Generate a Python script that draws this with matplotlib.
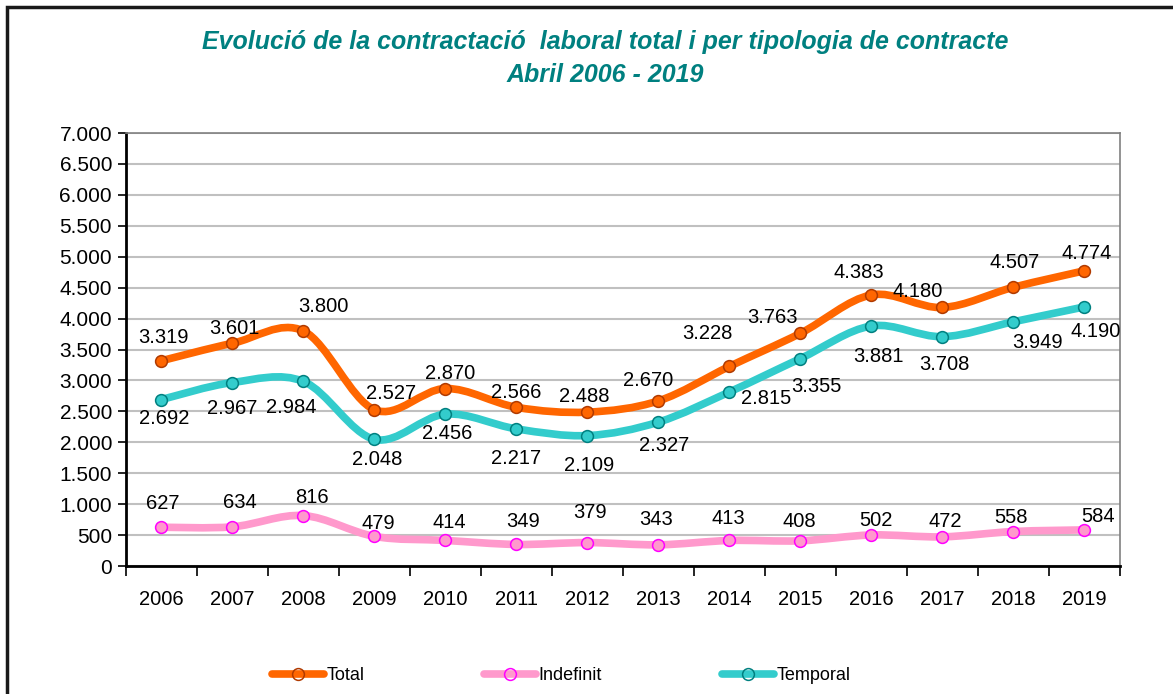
import numpy as np
import matplotlib
matplotlib.use("Agg")
import matplotlib.pyplot as plt
from matplotlib.path import Path
from matplotlib.patches import PathPatch, Rectangle
from matplotlib.lines import Line2D

plt.rcParams['font.family'] = ['Liberation Sans', 'DejaVu Sans']

# dades
anys = ['2006', '2007', '2008', '2009', '2010', '2011', '2012',
        '2013', '2014', '2015', '2016', '2017', '2018', '2019']
total = [3319, 3601, 3800, 2527, 2870, 2566, 2488, 2670, 3228, 3763, 4383, 4180, 4507, 4774]
indefinit = [627, 634, 816, 479, 414, 349, 379, 343, 413, 408, 502, 472, 558, 584]
temporal = [2692, 2967, 2984, 2048, 2456, 2217, 2109, 2327, 2815, 3355, 3881, 3708, 3949, 4190]

# desplaçament de les etiquetes (pixels)
off_total = [(2, 23), (2, 15), (20, 24), (17, 16), (5, 15), (0, 15), (-3, 16),
             (-10, 20), (-22, 33), (-28, 16), (-13, 22), (-25, 16), (1, 25), (2, 17)]
off_temporal = [(3, -19), (0, -26), (-12, -26), (3, -20), (2, -19), (0, -30), (2, -30),
                (6, -23), (37, -7), (16, -28), (7, -31), (2, -28), (24, -21), (11, -25)]
off_indefinit = [(1, 24), (7, 24), (8, 18), (4, 13), (4, 18), (7, 23), (3, 30),
                 (-2, 25), (-1, 22), (-1, 19), (4, 14), (3, 15), (-2, 14), (14, 13)]


def smooth_path(x, y):
    """Corba suavitzada tipus Excel (Bezier, Catmull-Rom)."""
    pts = np.column_stack([x, y]).astype(float)
    n = len(pts)
    verts = [pts[0]]
    codes = [Path.MOVETO]
    for i in range(n - 1):
        p0 = pts[i - 1] if i > 0 else pts[i]
        p1 = pts[i]
        p2 = pts[i + 1]
        p3 = pts[i + 2] if i + 2 < n else pts[i + 1]
        c1 = p1 + (p2 - p0) / 6.0
        c2 = p2 - (p3 - p1) / 6.0
        verts += [c1, c2, p2]
        codes += [Path.CURVE4] * 3
    return Path(verts, codes)


def fmt(v):
    return f"{v:,}".replace(",", ".")


fig = plt.figure(figsize=(11.73, 6.94), dpi=100)
ax = fig.add_axes([0.1074, 0.1844, 0.8474, 0.6239])

x = np.arange(len(anys))

series = [
    (temporal, '#33CCCC', '#008080', off_temporal, 'Temporal'),
    (total, '#FF6600', '#B03A00', off_total, 'Total'),
    (indefinit, '#FF99CC', '#FF00FF', off_indefinit, 'Indefinit'),
]

for vals, col, edge, offs, nom in series:
    patch = PathPatch(smooth_path(x, vals), facecolor='none', edgecolor=col,
                      lw=5.5, capstyle='round', zorder=3)
    ax.add_patch(patch)
    ax.plot(x, vals, ls='none', marker='o', ms=8.5, mfc=col, mec=edge,
            mew=1.1, zorder=4)
    for xi, v, (dx, dy) in zip(x, vals, offs):
        ax.annotate(fmt(v), (xi, v), xytext=(dx, dy), textcoords='offset pixels',
                    ha='center', va='center', fontsize=14.5, color='black', zorder=5)

ax.set_xlim(-0.5, len(anys) - 0.5)
ax.set_ylim(0, 7000)
yt = np.arange(0, 7001, 500)
ax.set_yticks(yt)
ax.set_yticklabels([fmt(v) for v in yt], fontsize=15)
ax.set_xticks(x)
ax.set_xticklabels(anys, fontsize=14.5)
ax.set_xticks(np.arange(-0.5, len(anys), 1), minor=True)
ax.tick_params(axis='x', which='major', length=0, pad=17)
ax.tick_params(axis='x', which='minor', length=7, width=1.2, direction='out')
ax.tick_params(axis='y', length=6, width=1.2, direction='out', pad=4)
ax.grid(axis='y', color='#C0C0C0', lw=1.5, zorder=0)
ax.set_axisbelow(True)

for s in ['left', 'bottom']:
    ax.spines[s].set_linewidth(2)
    ax.spines[s].set_color('black')
for s in ['top', 'right']:
    ax.spines[s].set_linewidth(1.2)
    ax.spines[s].set_color('#808080')

# títol
fig.text(0.5158, 1 - 42 / 694, "Evolució de la contractació  laboral total i per tipologia de contracte",
         ha='center', va='center', fontsize=18, fontweight='bold', fontstyle='italic', color='#008080')
fig.text(0.5158, 1 - 75 / 694, "Abril 2006 - 2019",
         ha='center', va='center', fontsize=18, fontweight='bold', fontstyle='italic', color='#008080')

# llegenda
leg_pos = {'Total': 272, 'Indefinit': 484, 'Temporal': 722}
for vals, col, edge, offs, nom in series:
    h = Line2D([], [], color=col, lw=5.5, marker='o', ms=8.5, mfc='none', mec=edge, mew=1.1,
               solid_capstyle='round')
    lg = fig.legend([h], [nom], loc='center left', bbox_to_anchor=(leg_pos[nom] / 1173, 1 - 676 / 694),
                    frameon=False, fontsize=13, handlelength=2.9, handletextpad=0.1,
                    borderpad=0, borderaxespad=0)

# marc exterior
fig.patches.append(Rectangle((7 / 1173, -0.1), 1.2, 1 - 7 / 694 + 0.1, fill=False,
                             edgecolor='#1a1a1a', lw=2.5, transform=fig.transFigure))

fig.savefig('out.png', dpi=100)
